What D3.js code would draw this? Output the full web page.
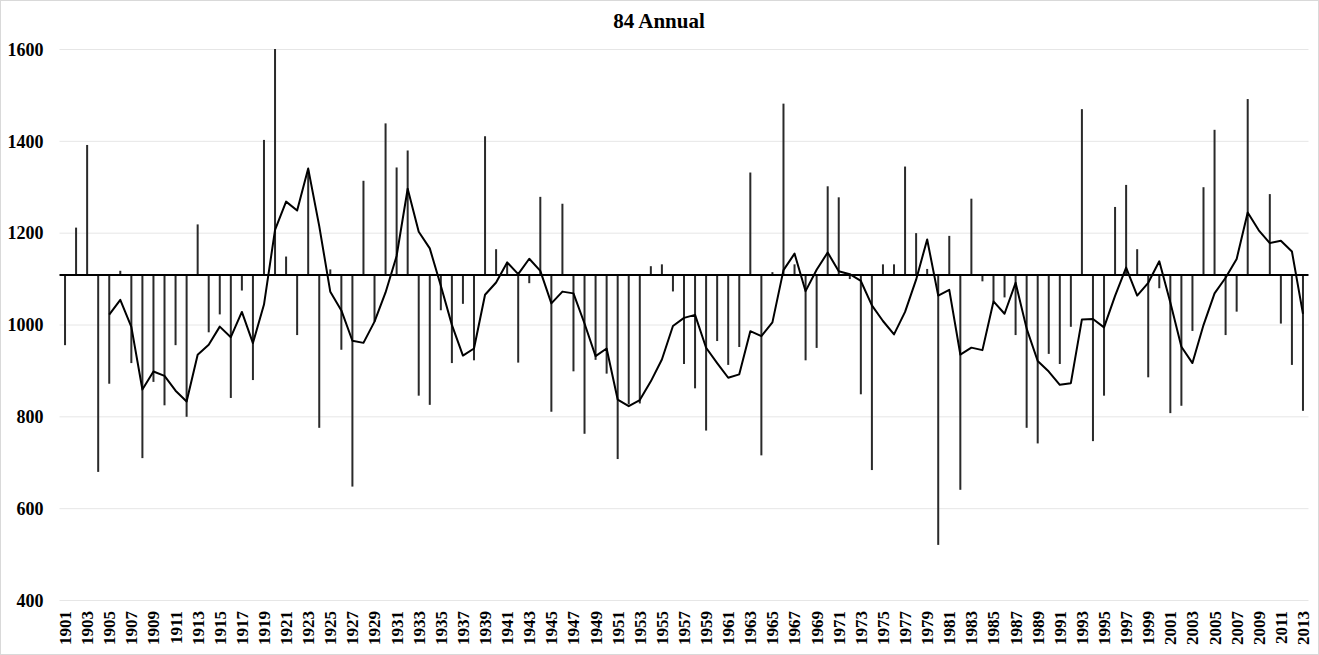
<!DOCTYPE html>
<html>
<head>
<meta charset="utf-8">
<script src="https://cdn.jsdelivr.net/npm/d3@7/dist/d3.min.js"></script>
<style>
  html, body { margin: 0; padding: 0; background: #fff; }
  svg { display: block; }
  svg text { font-family: "Liberation Serif", "Times New Roman", serif !important; font-weight: bold; fill: #000; }
</style>
</head>
<body>
<svg id="chart" width="1319" height="655"></svg>
<script>
// ---- data ----
const title = "84 Annual";
const years = d3.range(1901, 2014);
const values = [
  955, 1211, 1391, 679, 871, 1117, 916, 709, 875, 824,      // 1901-1910
  955, 799, 1218, 983, 1022, 840, 1074, 879, 1402, 1835,    // 1911-1920
  1148, 977, 1336, 775, 1120, 945, 647, 1313, 1006, 1438,   // 1921-1930
  1342, 1379, 845, 825, 1031, 916, 1045, 922, 1410, 1164,   // 1931-1940
  1135, 917, 1090, 1278, 810, 1263, 898, 762, 923, 893,     // 1941-1950
  707, 826, 828, 1127, 1131, 1072, 914, 861, 769, 964,      // 1951-1960
  912, 951, 1331, 715, 1114, 1481, 1131, 922, 949, 1301,    // 1961-1970
  1277, 1099, 848, 683, 1131, 1131, 1344, 1199, 1121, 520,  // 1971-1980
  1193, 640, 1274, 1094, 1050, 1059, 977, 775, 741, 936,    // 1981-1990
  914, 995, 1469, 746, 845, 1256, 1304, 1164, 885, 1079,    // 1991-2000
  807, 823, 986, 1299, 1424, 977, 1028, 1491, 1106, 1284,   // 2001-2010
  1002, 912, 812                                            // 2011-2013
];
const baselineValue = 1108;          // horizontal axis crossing value
const yTicks = [400, 600, 800, 1000, 1200, 1400, 1600];
const xTickLabels = years.filter((y, i) => i % 2 === 0);
const maPeriod = 5;                  // moving-average trendline period

// ---- chart ----
const W = 1319, H = 655;
const FONT = '"Liberation Serif", "Times New Roman", serif';
const svg = d3.select("#chart");
const plot = { left: 59.5, right: 1308.5, top: 49, bottom: 600 };

const x = d3.scaleBand().domain(years).range([plot.left, plot.right]).padding(0);
const y = d3.scaleLinear().domain([400, 1600]).range([plot.bottom, plot.top]);

// outer border
svg.append("rect").attr("x", 0.5).attr("y", 0.5).attr("width", W - 1).attr("height", H - 1)
  .attr("fill", "#fff").attr("stroke", "#d9d9d9").attr("stroke-width", 1);

// clip
svg.append("clipPath").attr("id", "plotClip").append("rect")
  .attr("x", plot.left).attr("y", plot.top)
  .attr("width", plot.right - plot.left).attr("height", plot.bottom - plot.top);

// gridlines + y labels
const yAxis = d3.axisLeft(y).tickValues(yTicks).tickSize(-(plot.right - plot.left)).tickPadding(16).tickFormat(d3.format("d"));
const gy = svg.append("g").attr("transform", `translate(${plot.left},0)`).call(yAxis)
  .attr("font-family", FONT);
gy.select(".domain").remove();
gy.selectAll(".tick line").attr("stroke", "#e6e6e6").attr("stroke-width", 1);
gy.selectAll(".tick text").style("font-size", "18px").style("font-family", FONT)
  .style("font-weight", "bold").attr("dy", "0.35em");

// title
svg.append("text").attr("x", 659).attr("y", 28).attr("text-anchor", "middle")
  .style("font-family", FONT).style("font-weight", "bold")
  .style("font-size", "21px").text(title);

// bars from baseline
const gBars = svg.append("g").attr("clip-path", "url(#plotClip)");
const bw = 2;
gBars.selectAll("rect.bar").data(years.map((yr, i) => ({ yr, v: values[i] })))
  .join("rect").attr("class", "bar")
  .attr("x", d => x(d.yr) + x.bandwidth() / 2 - bw / 2)
  .attr("width", bw)
  .attr("y", d => y(Math.max(d.v, baselineValue)))
  .attr("height", d => Math.abs(y(d.v) - y(baselineValue)))
  .attr("fill", "#2a2a2a");

// baseline (category axis)
svg.append("line").attr("x1", plot.left).attr("x2", plot.right)
  .attr("y1", y(baselineValue)).attr("y2", y(baselineValue))
  .attr("stroke", "#000").attr("stroke-width", 2);

// moving-average trendline of the data
const ma = [];
for (let i = maPeriod - 1; i < values.length; i++) {
  ma.push({ yr: years[i], v: d3.mean(values.slice(i - maPeriod + 1, i + 1)) });
}
const line = d3.line().x(d => x(d.yr) + x.bandwidth() / 2).y(d => y(d.v));
svg.append("path").datum(ma).attr("d", line)
  .attr("fill", "none").attr("stroke", "#000").attr("stroke-width", 2).attr("stroke-linejoin", "round");

// x tick labels (rotated)
const xAxis = d3.axisBottom(x).tickValues(xTickLabels).tickSize(0).tickPadding(0);
const gx = svg.append("g").attr("transform", `translate(0,${plot.bottom})`).call(xAxis)
  .attr("font-family", FONT);
gx.select(".domain").remove();
gx.selectAll(".tick text")
  .style("font-size", "17px").style("font-family", FONT).style("font-weight", "bold")
  .attr("text-anchor", "end")
  .attr("transform", "rotate(-90)")
  .attr("x", -11).attr("y", 0).attr("dy", "0.35em");
</script>
</body>
</html>
